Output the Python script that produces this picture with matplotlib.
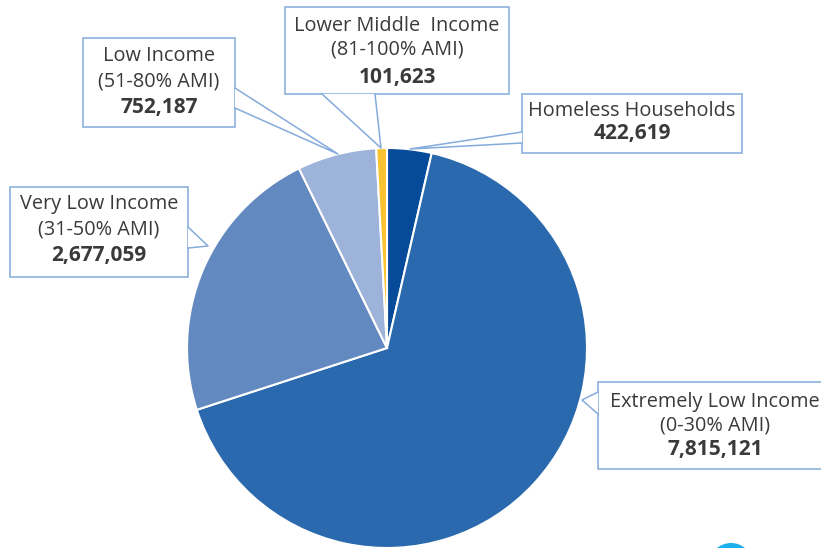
import matplotlib
matplotlib.use('Agg')
import matplotlib.pyplot as plt
from matplotlib.patches import Rectangle, Polygon, Circle

# Households by income group
categories = ['Homeless Households', 'Extremely Low Income', 'Very Low Income',
              'Low Income', 'Lower Middle  Income']
ranges = [None, '(0-30% AMI)', '(31-50% AMI)', '(51-80% AMI)', '(81-100% AMI)']
values = [422619, 7815121, 2677059, 752187, 101623]
colors = ['#064b9a', '#2a69ad', '#6389c1', '#9eb3d9', '#f8c232']

W, H = 821, 548
EDGE = '#84abdc'
TXT = '#3a3a3a'

plt.rcParams['font.family'] = ['Open Sans', 'DejaVu Sans']

fig = plt.figure(figsize=(W / 100, H / 100), dpi=100)
ax = fig.add_axes([0, 0, 1, 1])
ax.set_xlim(0, W)
ax.set_ylim(H, 0)  # pixel coordinates, y down
ax.set_aspect('equal')
ax.axis('off')

# y axis is inverted, so startangle=-90 / counterclock=True reads as
# "start at 12 o'clock, go clockwise" on screen
ax.pie(values, colors=colors, startangle=-90, counterclock=True,
       center=(387, 348), radius=200,
       wedgeprops=dict(edgecolor='white', linewidth=1.5))
ax.set_xlim(0, W)
ax.set_ylim(H, 0)


def callout(box, base, apex, lines, cx):
    x0, y0, x1, y1 = box
    ax.add_patch(Rectangle((x0, y0), x1 - x0, y1 - y0, facecolor='white',
                           edgecolor=EDGE, linewidth=1.1, zorder=5))
    ax.add_patch(Polygon([base[0], apex, base[1]], closed=True,
                         facecolor='white', edgecolor='none', zorder=6))
    ax.plot([base[0][0], apex[0], base[1][0]],
            [base[0][1], apex[1], base[1][1]],
            color=EDGE, linewidth=1.1, zorder=7)
    for text, y, bold in lines:
        ax.text(cx, y, text, ha='center', va='center',
                fontsize=15 if bold else 14.3,
                color=TXT, fontweight='bold' if bold else 'normal', zorder=8)


fmt = lambda v: f'{v:,}'

# Homeless
callout((522, 94, 742, 153), [(522, 132), (522, 143)], (410, 149),
        [(categories[0], 111, False), (fmt(values[0]), 134, True)], 632)
# Extremely low (box runs off the right edge, as in the source)
callout((598, 382, 840, 469), [(598, 392), (598, 414)], (582, 400),
        [(categories[1], 402, False), (ranges[1], 425, False),
         (fmt(values[1]), 450, True)], 715)
# Very low
callout((10, 187, 188, 277), [(188, 227), (188, 248)], (208, 246),
        [(categories[2], 204, False), (ranges[2], 229, False),
         (fmt(values[2]), 256, True)], 99)
# Low
callout((83, 38, 235, 127), [(235, 88), (235, 108)], (338, 154),
        [(categories[3], 56, False), (ranges[3], 82, False),
         (fmt(values[3]), 108, True)], 159)
# Lower middle
callout((285, 7, 509, 94), [(322, 94), (375, 94)], (381, 148),
        [(categories[4], 26, False), (ranges[4], 50, False),
         (fmt(values[4]), 77, True)], 397)

# stray icon at the bottom edge
ax.add_patch(Circle((731, 565), 22, facecolor='#1bb0ea', edgecolor='none',
                    zorder=3))

fig.savefig('out.png', dpi=100)
